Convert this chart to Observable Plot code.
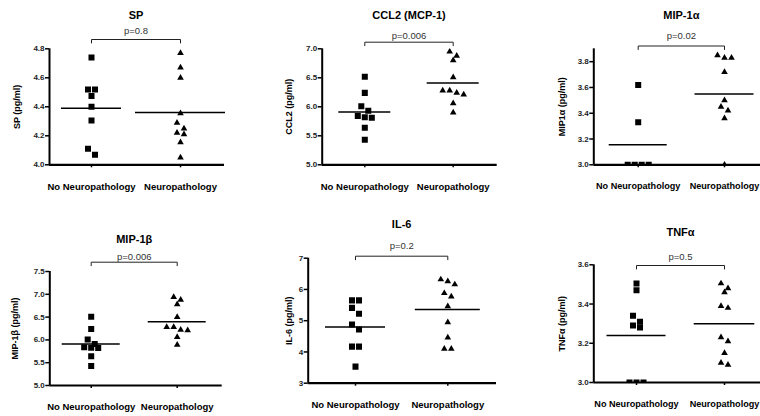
<!DOCTYPE html>
<html><head><meta charset="utf-8">
<script src="https://cdn.jsdelivr.net/npm/d3@7"></script>
<script src="https://cdn.jsdelivr.net/npm/@observablehq/plot@0.6"></script>
<style>
html,body{margin:0;padding:0;background:#fff;}
#chart{position:relative;width:760px;height:416px;overflow:hidden;background:#fff;}
</style></head><body><div id="chart"></div>
<script>
// ---------- data ----------
const groups = ["No Neuropathology", "Neuropathology"];
const titles = ["SP", "CCL2 (MCP-1)", "MIP-1α", "MIP-1β", "IL-6", "TNFα"];
const yLabels = ["SP (pg/ml)", "CCL2 (pg/ml)", "MIP1α (pg/ml)", "MIP-1β (pg/ml)", "IL-6 (pg/ml)", "TNFα (pg/ml)"];
const pValues = ["p=0.8", "p=0.006", "p=0.02", "p=0.006", "p=0.2", "p=0.5"];

const spNo = [4.74, 4.52, 4.52, 4.475, 4.40, 4.305, 4.11, 4.07];
const spNeuro = [4.77, 4.67, 4.60, 4.355, 4.29, 4.25, 4.22, 4.21, 4.155, 4.05];
const ccl2No = [6.52, 6.24, 6.01, 5.93, 5.84, 5.82, 5.81, 5.64, 5.43];
const ccl2Neuro = [6.95, 6.88, 6.80, 6.51, 6.28, 6.28, 6.24, 6.21, 6.06, 5.90];
const mip1aNo = [3.62, 3.33, 3.0, 3.0, 3.0, 3.0];
const mip1aNeuro = [3.85, 3.83, 3.83, 3.72, 3.50, 3.45, 3.42, 3.36, 3.0];
const mip1bNo = [6.51, 6.24, 6.01, 5.91, 5.84, 5.83, 5.82, 5.64, 5.43];
const mip1bNeuro = [6.94, 6.88, 6.78, 6.50, 6.28, 6.28, 6.22, 6.21, 6.06, 5.89];
const il6No = [5.65, 5.65, 5.41, 5.22, 4.88, 4.72, 4.17, 4.17, 3.53];
const il6Neuro = [6.32, 6.26, 6.16, 5.88, 5.77, 5.46, 4.95, 4.46, 4.10, 4.10];
const tnfNo = [3.505, 3.47, 3.34, 3.31, 3.29, 3.28, 3.0, 3.0, 3.0];
const tnfNeuro = [3.505, 3.48, 3.46, 3.39, 3.38, 3.23, 3.21, 3.15, 3.10, 3.09];

// group means (horizontal lines)
const spMeans = [4.39, 4.36];
const ccl2Means = [5.91, 6.41];
const mip1aMeans = [3.155, 3.55];
const mip1bMeans = [5.91, 6.40];
const il6Means = [4.80, 5.36];
const tnfMeans = [3.24, 3.30];

// y axes
const spTicks = [4.0, 4.2, 4.4, 4.6, 4.8];
const ccl2Ticks = [5.0, 5.5, 6.0, 6.5, 7.0];
const mip1aTicks = [3.0, 3.2, 3.4, 3.6, 3.8];
const mip1bTicks = [5.0, 5.5, 6.0, 6.5, 7.0, 7.5];
const il6Ticks = [3, 4, 5, 6, 7];
const tnfTicks = [3.0, 3.2, 3.4, 3.6];
const spDomain = [4.0, 4.8];
const ccl2Domain = [5.0, 7.0];
const mip1aDomain = [3.0, 3.9];
const mip1bDomain = [5.0, 7.5];
const il6Domain = [3, 7];
const tnfDomain = [3.0, 3.6];

// ---------- layout (page pixels) ----------
const layout = [
  {axisX: 49, c0: 91, c1: 180, endX: 224, top: 48.3, bottom: 164.3, titleY: 15, pY: 30.7, bracketY: 39, labelX: 16.7, half: [30, 45], catSize: 9.5},
  {axisX: 321.7, c0: 364.3, c1: 452.7, endX: 496.7, top: 48.3, bottom: 164.3, titleY: 15, pY: 35, bracketY: 41.7, labelX: 288.3, half: [26, 26], catSize: 9.5},
  {axisX: 593.3, c0: 637.7, c1: 724, endX: 800, top: 48.3, bottom: 164.3, titleY: 15, pY: 35, bracketY: 45.5, labelX: 561.7, half: [29, 29.5], catSize: 9.1},
  {axisX: 49.3, c0: 90.7, c1: 176.7, endX: 221.7, top: 271, bottom: 385, titleY: 239.3, pY: 256, bracketY: 261.7, labelX: 15, half: [29, 29], catSize: 9.5},
  {axisX: 307.7, c0: 355, c1: 447.3, endX: 496, top: 257.7, bottom: 382.7, titleY: 224, pY: 245, bracketY: 255.7, labelX: 288.3, half: [30, 32.5], catSize: 9.5},
  {axisX: 593.3, c0: 636, c1: 724, endX: 800, top: 264.3, bottom: 382, titleY: 231.7, pY: 256.7, bracketY: 265, labelX: 561.7, half: [29.5, 30.3], catSize: 9.1}
];

const W = 800, H = 416;
const font = "'Liberation Sans', Arial, sans-serif";

function panel(i, valuesNo, valuesNeuro, means, ticks, yDomain, fmt) {
  const L = layout[i];
  const step = L.c1 - L.c0;               // px per x unit
  const xDomain = [(L.axisX - L.c0) / step, 1 + (L.endX - L.c1) / step];
  const ky = (L.bottom - L.top) / (yDomain[1] - yDomain[0]);
  const yAt = px => yDomain[1] + (L.top - px) / ky;
  const xAt = px => (px - L.c0) / step;

  // jitter: rows of close values are centred around the category
  const pts = [];
  [valuesNo, valuesNeuro].forEach((vals, g) => {
    const sorted = [...vals].sort((a, b) => b - a);
    let row = [];
    const flush = () => {
      row.forEach((v, j) => pts.push({g, value: v, x: g + (j - (row.length - 1) / 2) * 7 / step}));
      row = [];
    };
    for (const v of sorted) {
      if (row.length && (row[0] - v) * ky >= 6) flush();
      row.push(v);
    }
    flush();
  });
  const meanRows = means.map((m, g) => ({mean: m, x1: g - L.half[g] / step, x2: g + L.half[g] / step}));
  const drop = 3.5;
  const bracket = [
    {x: 0, y: yAt(L.bracketY + drop)}, {x: 0, y: yAt(L.bracketY)},
    {x: 1, y: yAt(L.bracketY)}, {x: 1, y: yAt(L.bracketY + drop)}
  ];

  const svg = Plot.plot({
    width: W, height: H,
    marginLeft: L.axisX, marginRight: W - L.endX, marginTop: L.top, marginBottom: H - L.bottom,
    x: {type: "linear", domain: xDomain},
    y: {type: "linear", domain: yDomain},
    style: `background: transparent; max-width: none; overflow: visible; font-family: ${font}; font-weight: bold; position: absolute; left: 0; top: 0;`,
    marks: [
      Plot.dot(pts.filter(d => d.g === 0), {x: "x", y: "value", symbol: "square", r: 3.4, fill: "black", stroke: "none", clip: true}),
      Plot.dot(pts.filter(d => d.g === 1), {x: "x", y: "value", symbol: "triangle", r: 2.45, fill: "black", stroke: "none", clip: true}),
      Plot.ruleY(meanRows, {y: "mean", x1: "x1", x2: "x2", stroke: "black", strokeWidth: 1.5}),
      Plot.ruleX([xDomain[0]], {stroke: "black", strokeWidth: 2}),
      Plot.ruleY([yDomain[0]], {stroke: "black", strokeWidth: 2.2}),
      Plot.axisY(ticks, {tickSize: 4, tickPadding: 1, tickFormat: d3.format(fmt), fontSize: 8, fontWeight: "bold", fill: "#222", strokeWidth: 1.5, label: null}),
      Plot.axisX([0, 1], {tickSize: 3, tickPadding: 15, tickFormat: d => groups[d], fontSize: L.catSize, fontWeight: "bold", fill: "black", strokeWidth: 1.5, label: null}),
      Plot.line(bracket, {x: "x", y: "y", stroke: "#222", strokeWidth: 1}),
      Plot.text([pValues[i]], {x: 0.5, y: yAt(L.pY), text: d => d, fontSize: 9.5, fontWeight: "normal", fill: "#333"}),
      Plot.text([titles[i]], {x: 0.5, y: yAt(L.titleY), text: d => d, fontSize: 11, fontWeight: "bold", fill: "black"}),
      Plot.text([yLabels[i]], {x: xAt(L.labelX), y: (yDomain[0] + yDomain[1]) / 2, text: d => d, rotate: -90, fontSize: 9, fontWeight: "bold", fill: "black"})
    ]
  });
  svg.style.position = "absolute";
  svg.style.left = "0px";
  svg.style.top = "0px";
  svg.style.background = "transparent";
  svg.style.maxWidth = "none";
  document.getElementById("chart").appendChild(svg);
}

panel(0, spNo, spNeuro, spMeans, spTicks, spDomain, ".1f");
panel(1, ccl2No, ccl2Neuro, ccl2Means, ccl2Ticks, ccl2Domain, ".1f");
panel(2, mip1aNo, mip1aNeuro, mip1aMeans, mip1aTicks, mip1aDomain, ".1f");
panel(3, mip1bNo, mip1bNeuro, mip1bMeans, mip1bTicks, mip1bDomain, ".1f");
panel(4, il6No, il6Neuro, il6Means, il6Ticks, il6Domain, "d");
panel(5, tnfNo, tnfNeuro, tnfMeans, tnfTicks, tnfDomain, ".1f");
</script></body></html>
